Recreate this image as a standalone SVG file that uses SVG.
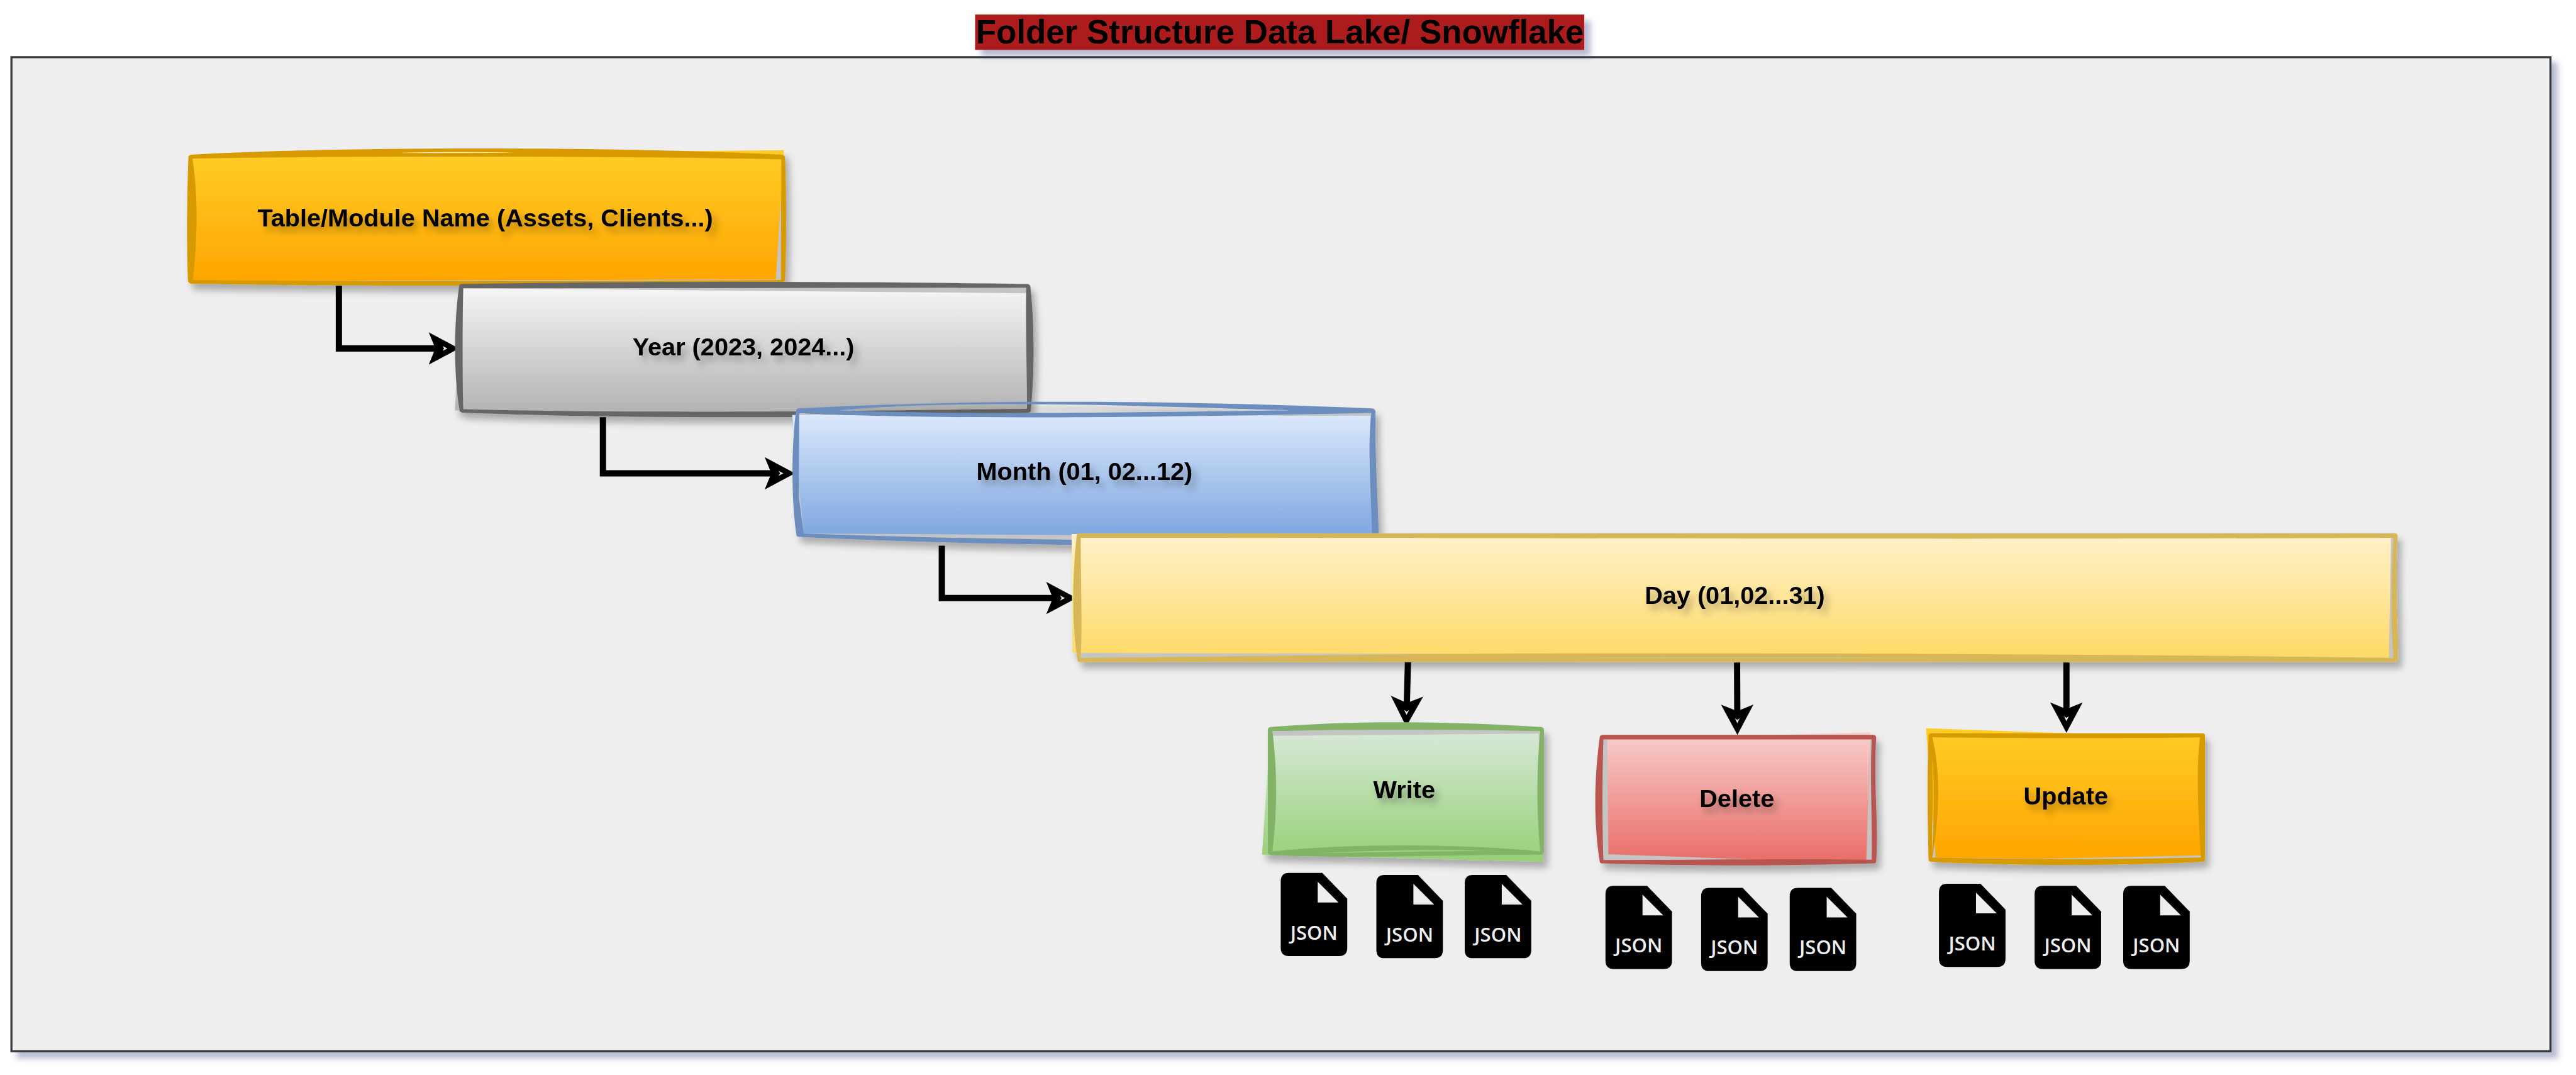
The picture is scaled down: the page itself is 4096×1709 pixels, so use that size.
<svg xmlns="http://www.w3.org/2000/svg" xmlns:xlink="http://www.w3.org/1999/xlink" width="4096" height="1709" viewBox="0 0 4096 1709">
<style>
.lbl{font-family:"Liberation Sans",Arial,sans-serif;font-weight:700;font-size:60px;fill:#000;text-anchor:middle;filter:url(#ts)}
.ttl{font-family:"Liberation Sans",Arial,sans-serif;font-weight:700;font-size:80px;fill:#000;text-anchor:middle}
.jtx{font-family:"Open Sans","Noto Sans",sans-serif;font-weight:600;font-size:47px;fill:#eeeeee;text-anchor:middle}
.under{fill:#c4c4c4}
.ring{fill-rule:evenodd}
.conn{fill:none;stroke:#000;stroke-width:15;stroke-linejoin:miter;marker-end:url(#arrow)}
.json{fill:#000}
.fold{fill:#eeeeee}
</style>
<defs>
<filter id="cs" x="-2%" y="-5%" width="105%" height="110%"><feDropShadow dx="15" dy="15" stdDeviation="7" flood-color="#485289" flood-opacity=".4"/></filter>
<filter id="tts" x="-3%" y="-20%" width="108%" height="170%"><feDropShadow dx="15" dy="15" stdDeviation="7" flood-color="#485289" flood-opacity=".4"/></filter>
<filter id="ns" x="-5%" y="-15%" width="115%" height="135%"><feDropShadow dx="10" dy="15" stdDeviation="8" flood-color="#000" flood-opacity=".28"/></filter>
<filter id="ts" x="-10%" y="-30%" width="125%" height="180%"><feDropShadow dx="10" dy="13" stdDeviation="9" flood-color="#000" flood-opacity=".3"/></filter>
<linearGradient id="gOrange" x1="0" y1="0" x2="0" y2="1"><stop offset="0" stop-color="#ffcd28"/><stop offset="1" stop-color="#ffa500"/></linearGradient>
<linearGradient id="gGray" x1="0" y1="0" x2="0" y2="1"><stop offset="0" stop-color="#f5f5f5"/><stop offset="1" stop-color="#b3b3b3"/></linearGradient>
<linearGradient id="gBlue" x1="0" y1="0" x2="0" y2="1"><stop offset="0" stop-color="#dae8fc"/><stop offset="1" stop-color="#7ea6e0"/></linearGradient>
<linearGradient id="gYellow" x1="0" y1="0" x2="0" y2="1"><stop offset="0" stop-color="#fff2cc"/><stop offset="1" stop-color="#ffd966"/></linearGradient>
<linearGradient id="gGreen" x1="0" y1="0" x2="0" y2="1"><stop offset="0" stop-color="#d5e8d4"/><stop offset="1" stop-color="#97d077"/></linearGradient>
<linearGradient id="gRed" x1="0" y1="0" x2="0" y2="1"><stop offset="0" stop-color="#f8cecc"/><stop offset="1" stop-color="#ea6b66"/></linearGradient>
<marker id="arrow" markerUnits="userSpaceOnUse" markerWidth="80" markerHeight="84" refX="25" refY="39" orient="auto" overflow="visible"><path fill-rule="evenodd" d="M0 0L73 39L0 78L16 39ZM33 33L45 39L33 45L37 39Z"/></marker>
<path id="doc" d="M20 0H100L160 62V180Q160 200 140 200H20Q0 200 0 180V20Q0 0 20 0Z"/>
<path id="fld" d="M89 21L139 71H89Z"/>
</defs>
<g transform="scale(0.66118)">
<g id="container"><rect x="27.5" y="137.5" width="6106" height="2390" fill="#eeeeee" stroke="#36393d" stroke-width="5" filter="url(#cs)"/></g>
<g id="title"><rect x="2345" y="35" width="1465" height="85" fill="#ad1c1c" filter="url(#tts)"/><text class="ttl" x="3078" y="105">Folder Structure Data Lake/ Snowflake</text></g>
<g id="connectors">
<path class="conn" d="M815 687V838H1056"/>
<path class="conn" d="M1450 1003V1138H1864"/>
<path class="conn" d="M2265 1312V1438H2541"/>
<path class="conn" d="M3386 1592L3383 1699"/>
<path class="conn" d="M4177.500 1593L4178 1719"/>
<path class="conn" d="M4969.500 1593L4969.500 1714"/>
</g>
<g id="node-table"><g filter="url(#ns)">
<path class="under" d="M463 381C800 375 1500 375 1879 383L1878 673C1500 677 800 677 464 673C476 560 476 470 463 381Z"/>
<path fill="url(#gOrange)" d="M463 376L1885 361L1866 672L463 676Z"/>
<path class="ring" fill="#d79b00" d="M453 379Q453 373 460 372C800 352 1500 352 1880 372Q1888 373 1888 380C1892 500 1891 600 1888 672Q1888 678 1880 678C1500 689 800 689 460 682Q453 681 452 674C449 600 449 500 453 379ZM463 381C800 375 1500 375 1879 383L1878 673C1500 677 800 677 464 673C476 560 476 470 463 381Z"/>
<path fill="#efe6c8" d="M967 367C1050 365 1150 365 1237 367C1150 368 1050 368 967 368Z"/>
</g><text class="lbl" x="1167" y="544">Table/Module Name (Assets, Clients...)</text></g>
<g id="node-year"><g filter="url(#ns)">
<path class="under" d="M1114 693L2468 692C2466 780 2470 900 2470 983C2150 986 1650 996 1114 984C1112 900 1112 780 1114 693Z"/>
<path fill="url(#gGray)" d="M1110 693L2468 705L2470 984L1600 990L1094 987Z"/>
<path class="ring" fill="#666666" d="M1104 689Q1104 683 1111 683C1500 676 2100 676 2470 683Q2477 683 2478 690C2488 780 2488 900 2479 986Q2479 992 2472 992C2100 1006 1500 1008 1112 992Q1105 991 1105 985C1091 900 1091 780 1104 689ZM1114 693L2468 692C2466 780 2470 900 2470 983C2150 986 1650 996 1114 984C1112 900 1112 780 1114 693Z"/>
</g><text class="lbl" x="1788" y="855">Year (2023, 2024...)</text></g>
<g id="node-month"><g filter="url(#ns)">
<path class="under" d="M1922 993C2200 1008 2700 1006 3298 993C3288 1070 3298 1200 3300 1300C3000 1303 2400 1300 1933 1283L1921 1195Z"/>
<path fill="url(#gBlue)" d="M1905 998L3296 999L3301 1290L1933 1283Z"/>
<path class="ring" fill="#6c8ebf" d="M1914 990Q1914 983 1921 982C2300 961 2800 961 3300 982Q3307 983 3308 990C3306 1100 3314 1200 3316 1300Q3316 1306 3308 1306C3000 1315 2400 1315 1922 1291Q1915 1291 1915 1284C1903 1200 1903 1080 1914 990ZM1922 993C2200 1008 2700 1006 3298 993C3288 1070 3298 1200 3300 1300C3000 1303 2400 1300 1933 1283L1921 1195ZM2014 987C2200 968 2500 970 2700 975C2900 980 3000 984 3103 986.500C2900 990 2600 993 2400 993C2250 993 2100 990 2014 987Z"/>
</g><text class="lbl" x="2608" y="1154">Month (01, 02...12)</text></g>
<g id="node-day"><g filter="url(#ns)">
<path class="under" d="M2599 1293C3500 1293 4800 1298 5756 1293C5750 1400 5750 1520 5756 1582C5300 1575 4500 1570 3800 1571C3300 1572 2900 1580 2599 1582C2603 1500 2599 1400 2599 1293Z"/>
<path fill="url(#gYellow)" d="M2577 1284L5750 1293L5745 1582L5300 1577L2579 1570Z"/>
<path class="ring" fill="#d6b656" d="M2589 1289Q2589 1282 2596 1282L5759 1282Q5766 1282 5766 1289C5760 1400 5768 1500 5767 1585Q5767 1592 5760 1592L2598 1592Q2591 1592 2591 1585C2578 1500 2578 1400 2589 1289ZM2599 1293C3500 1293 4800 1298 5756 1293C5750 1400 5750 1520 5756 1582C5300 1575 4500 1570 3800 1571C3300 1572 2900 1580 2599 1582C2603 1500 2599 1400 2599 1293ZM3594 1582C4000 1581 4400 1581 4780 1582C4400 1583 4000 1583 3594 1582Z"/>
</g><text class="lbl" x="4172" y="1452">Day (01,02...31)</text></g>
<g id="node-write"><g filter="url(#ns)">
<path class="under" d="M3060 1758C3250 1753 3450 1753 3704 1758C3695 1850 3695 1950 3704 2047C3500 2028 3250 2028 3060 2047C3072 1950 3072 1850 3060 1758Z"/>
<path fill="url(#gGreen)" d="M3060 1769L3700 1764L3712 2072L3035 2055L3052 1800Z"/>
<path class="ring" fill="#82b366" d="M3049 1755Q3049 1749 3056 1748C3250 1733 3450 1733 3706 1748Q3713 1749 3713 1755L3713 2048Q3713 2055 3706 2055C3500 2054 3300 2066 3056 2056Q3049 2055 3049 2048ZM3060 1758C3250 1753 3450 1753 3704 1758C3695 1850 3695 1950 3704 2047C3500 2028 3250 2028 3060 2047C3072 1950 3072 1850 3060 1758ZM3172 2051C3300 2045 3450 2042 3577 2046C3450 2047 3300 2049 3172 2051Z"/>
</g><text class="lbl" x="3377" y="1920">Write</text></g>
<g id="node-delete"><g filter="url(#ns)">
<path class="under" d="M3856 1778L4501 1778C4497 1880 4503 1980 4501 2067C4300 2064 4100 2068 3856 2068C3853 1980 3853 1880 3856 1778Z"/>
<path fill="url(#gRed)" d="M3865 1778L4498 1761L4488 2076L3868 2054Z"/>
<path class="ring" fill="#b85450" d="M3847 1774Q3847 1768 3854 1767L4505 1767Q4512 1768 4512 1774C4505 1880 4518 1980 4512 2070Q4512 2076 4505 2076C4300 2082 4100 2083 3854 2076Q3847 2076 3847 2070C3833 1980 3833 1880 3847 1774ZM3856 1778L4501 1778C4497 1880 4503 1980 4501 2067C4300 2064 4100 2068 3856 2068C3853 1980 3853 1880 3856 1778Z"/>
</g><text class="lbl" x="4177" y="1940">Delete</text></g>
<g id="node-update"><g filter="url(#ns)">
<path class="under" d="M4647 1773C4800 1775 5100 1776 5291 1773C5282 1830 5285 1950 5293 2062C5100 2067 4850 2067 4647 2062C4666 1950 4666 1850 4647 1773Z"/>
<path fill="url(#gOrange)" d="M4632 1751L4973 1763L5293 1773L5293 2057L4900 2065L4655 2062Z"/>
<path class="ring" fill="#d79b00" d="M4638 1769Q4638 1763 4645 1763L5296 1763Q5303 1763 5303 1769L5303 2066Q5303 2072 5296 2072C5100 2082 4850 2082 4645 2072Q4638 2072 4638 2066C4635 1950 4635 1850 4638 1769ZM4647 1773C4800 1775 5100 1776 5291 1773C5282 1830 5285 1950 5293 2062C5100 2067 4850 2067 4647 2062C4666 1950 4666 1850 4647 1773ZM4647 1823C4652 1880 4652 1960 4646 2050C4648 1960 4648 1880 4647 1823Z"/>
</g><text class="lbl" x="4968" y="1935">Update</text></g>
<g id="json-write-1" transform="translate(3080 2099)"><use class="json" xlink:href="#doc" href="#doc"/><use class="fold" xlink:href="#fld" href="#fld"/><text class="jtx" x="80" y="160">JSON</text></g>
<g id="json-write-2" transform="translate(3310 2104)"><use class="json" xlink:href="#doc" href="#doc"/><use class="fold" xlink:href="#fld" href="#fld"/><text class="jtx" x="80" y="160">JSON</text></g>
<g id="json-write-3" transform="translate(3522.500 2104)"><use class="json" xlink:href="#doc" href="#doc"/><use class="fold" xlink:href="#fld" href="#fld"/><text class="jtx" x="80" y="160">JSON</text></g>
<g id="json-delete-1" transform="translate(3861 2130)"><use class="json" xlink:href="#doc" href="#doc"/><use class="fold" xlink:href="#fld" href="#fld"/><text class="jtx" x="80" y="160">JSON</text></g>
<g id="json-delete-2" transform="translate(4091 2135)"><use class="json" xlink:href="#doc" href="#doc"/><use class="fold" xlink:href="#fld" href="#fld"/><text class="jtx" x="80" y="160">JSON</text></g>
<g id="json-delete-3" transform="translate(4304 2135)"><use class="json" xlink:href="#doc" href="#doc"/><use class="fold" xlink:href="#fld" href="#fld"/><text class="jtx" x="80" y="160">JSON</text></g>
<g id="json-update-1" transform="translate(4663 2125)"><use class="json" xlink:href="#doc" href="#doc"/><use class="fold" xlink:href="#fld" href="#fld"/><text class="jtx" x="80" y="160">JSON</text></g>
<g id="json-update-2" transform="translate(4893 2130)"><use class="json" xlink:href="#doc" href="#doc"/><use class="fold" xlink:href="#fld" href="#fld"/><text class="jtx" x="80" y="160">JSON</text></g>
<g id="json-update-3" transform="translate(5106 2130)"><use class="json" xlink:href="#doc" href="#doc"/><use class="fold" xlink:href="#fld" href="#fld"/><text class="jtx" x="80" y="160">JSON</text></g>
</g>
</svg>
